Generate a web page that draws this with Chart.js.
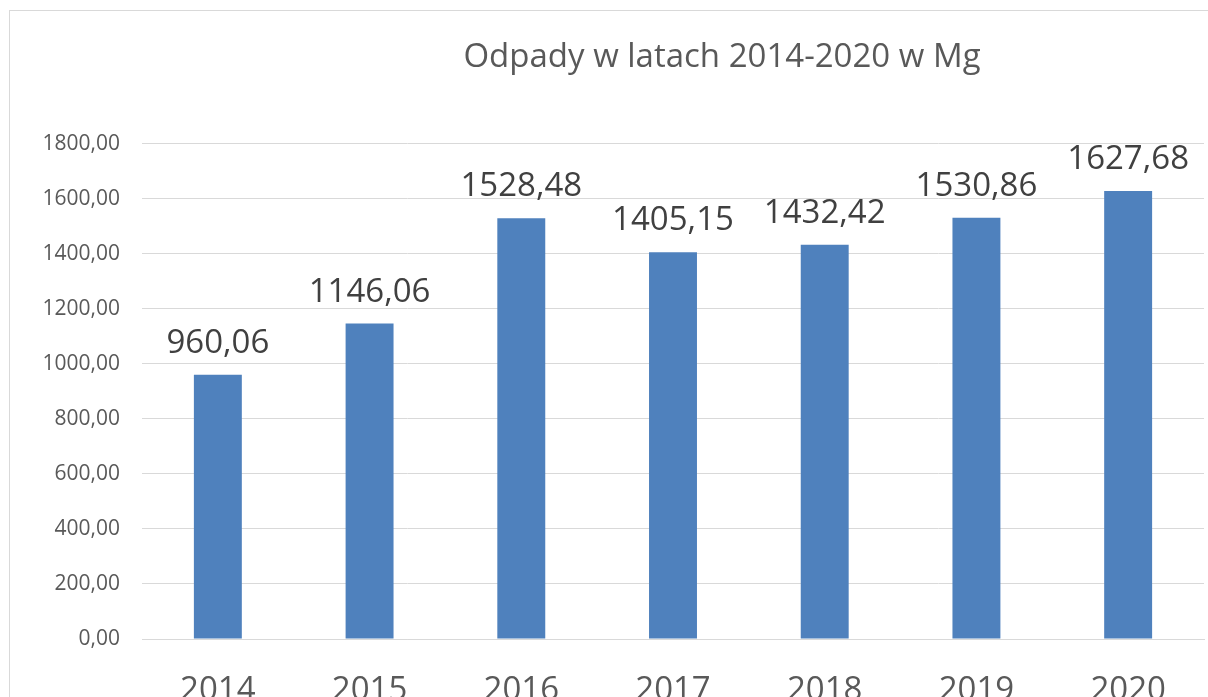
<!DOCTYPE html>
<html>
<head>
<meta charset="utf-8">
<script src="https://cdn.jsdelivr.net/npm/chart.js@4"></script>
<style>
  html, body { margin: 0; padding: 0; background: #fff; overflow: hidden; }
  #box {
    position: absolute; left: 9px; top: 10px;
    width: 1424px; height: 710px;
    border: 1px solid #d9d9d9;
  }
</style>
</head>
<body>
<div id="box"><canvas id="chartBar" width="1424" height="710"></canvas></div>
<script>
const years = ["2014", "2015", "2016", "2017", "2018", "2019", "2020"];
const waste = [960.06, 1146.06, 1528.48, 1405.15, 1432.42, 1530.86, 1627.68];
const yMax = 1800;
const yStep = 200;

const fmt = (v) => Number(v).toFixed(2).replace(".", ",");

// value labels above each bar
const barLabels = {
  id: "barLabels",
  afterDatasetsDraw(chart) {
    const ctx = chart.ctx;
    const meta = chart.getDatasetMeta(0);
    ctx.save();
    ctx.font = "33px 'Open Sans'";
    ctx.fillStyle = "#404040";
    ctx.textAlign = "center";
    ctx.textBaseline = "alphabetic";
    meta.data.forEach((bar, i) => {
      ctx.fillText(fmt(waste[i]), bar.x, bar.y - 22);
    });
    ctx.restore();
  },
};

const chartBar = new Chart("chartBar", {
  type: "bar",
  data: {
    labels: years,
    datasets: [
      {
        label: "Odpady",
        data: waste,
        backgroundColor: "rgb(79, 129, 189)",
        borderWidth: 0,
        barPercentage: 0.316,
        categoryPercentage: 1,
      },
    ],
  },
  options: {
    responsive: false,
    animation: false,
    plugins: {
      legend: { display: false },
      tooltip: { enabled: false },
      title: {
        display: true,
        text: "Odpady w latach 2014-2020 w Mg",
        color: "#595959",
        font: { family: "'Open Sans'", size: 33, weight: "normal", lineHeight: 1.2 },
        padding: { top: 27, bottom: 66 },
      },
    },
    scales: {
      y: {
        min: 0,
        max: yMax,
        afterFit: (scale) => { scale.width = 132; },
        grid: { color: "#d9d9d9", drawTicks: false },
        border: { display: false },
        ticks: {
          stepSize: yStep,
          color: "#595959",
          padding: 22,
          font: { family: "'Open Sans'", size: 21 },
          callback: (v) => fmt(v),
        },
      },
      // empty space to the right of the plot
      yRight: {
        position: "right",
        afterFit: (scale) => { scale.width = 230; },
        grid: { display: false, drawTicks: false },
        border: { display: false },
        ticks: { display: false },
      },
      x: {
        afterFit: (scale) => { scale.height = 82; },
        grid: { display: false, drawTicks: false },
        border: { color: "#d9d9d9", width: 1 },
        ticks: {
          color: "#595959",
          padding: 32,
          font: { family: "'Open Sans'", size: 33 },
        },
      },
    },
  },
  plugins: [barLabels],
});
</script>
</body>
</html>
